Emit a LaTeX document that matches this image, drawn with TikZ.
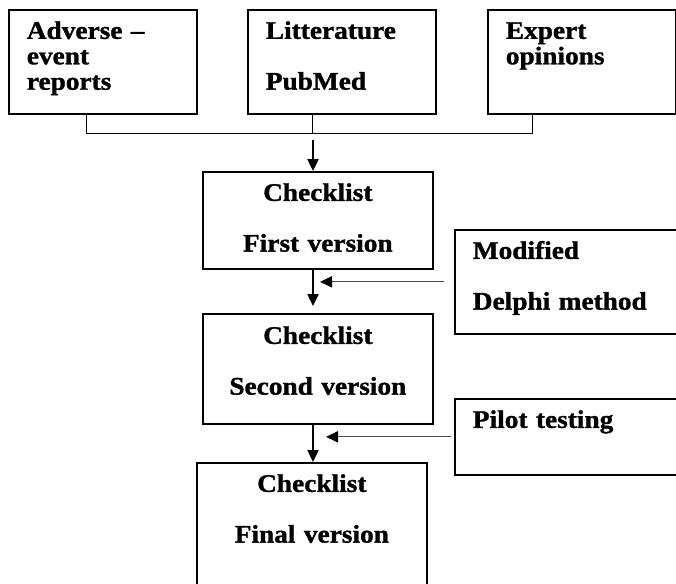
\documentclass[tikz,border=0pt]{standalone}
\usepackage{fontspec}
\setmainfont{Liberation Serif}[FakeStretch=1.08, BoldFeatures={FakeBold=1.2}]
\usetikzlibrary{
    arrows.meta,
    positioning,
    calc
}

\begin{document}
\begin{tikzpicture}[>={Triangle[length=0.3cm, width=0.28cm]}, text-node/.style={
                rectangle, draw=black, line width=1.2pt, anchor=north west, inner ysep=0pt, inner xsep=0.45cm,
                font=\fontsize{18}{18.1}\selectfont\bfseries, text height=0.725cm},
                source/.style={text-node, text width=3.8cm, text depth=1.875cm, align=left},
                check/.style={text-node, text width=4.85cm, align=center},
                method/.style={text-node, text width=5.1cm, align=left},
                main/.style={->, line width=1.2pt},
                side/.style={-{Triangle[length=0.3cm, width=0.28cm, color=black]}, draw=black!70, line width=0.8pt}]
                \clip (0,0) rectangle (16.9,-14.575);
                \node[source] (adverse) at (0.2,-0.225) {Adverse --\\ event\\ reports};
                \node[source] (litt) at (6.175,-0.225) {Litterature\\[18pt] PubMed};
                \node[source] (expert) at (12.175,-0.225) {Expert\\ opinions};
                \node[check, text depth=1.7cm] (check1) at (5.05,-4.275) {Checklist\\[18pt] First version};
                \node[check, text height=0.75cm, text depth=2cm] (check2) at (5.05,-7.825) {Checklist\\[18pt] Second version};
                \node[check, text depth=2.75cm] (check3) at (4.9,-11.55) {Checklist\\[18pt] Final version};
                \node[method, text depth=1.875cm] (modified) at (11.35,-5.725) {Modified\\[18pt] Delphi method};
                \node[method, text depth=1.175cm] (pilot) at (11.35,-9.95) {Pilot testing};
                \coordinate (join) at (7.825,-3.5);
                \draw [line width=0.7pt] ([xshift=1.95cm]adverse.south west) -- ++(0,-0.475) -| ([xshift=1.125cm]expert.south west);
                \draw [line width=0.7pt] ([xshift=1.625cm]litt.south west) -- ++(0,-0.475);
                \draw [main] (join) -- (join |- check1.north);
                \draw [main, shorten >=0.175cm] (check1.south -| join) -- (check2.north -| join);
                \draw [main] (check2.south -| join) -- (check3.north -| join);
                \draw [side] ([xshift=-0.25cm]modified.west) -- ++(-3.1,0);
                \draw [side] ([xshift=-0.075cm]pilot.west) -- ++(-3.125,0);
            \end{tikzpicture}
\end{document}
